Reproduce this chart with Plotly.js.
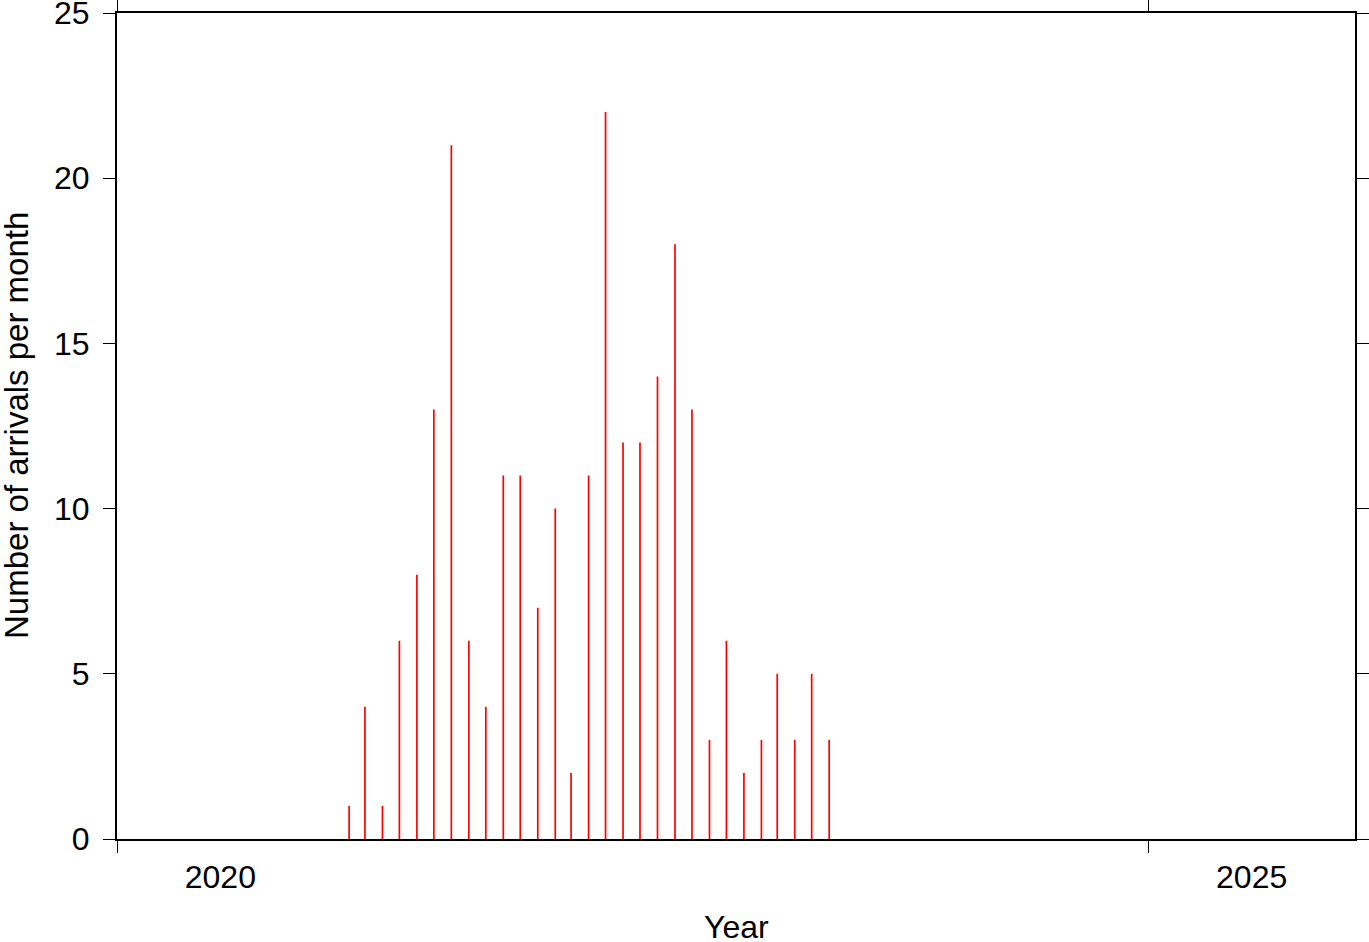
<!DOCTYPE html>
<html>
<head>
<meta charset="utf-8">
<script src="https://cdn.plot.ly/plotly-3.0.1.min.js"></script>
<style>html,body{margin:0;padding:0;background:#fff;}#chart{width:1369px;height:942px;}</style>
</head>
<body>
<div id="chart"></div>
<script>
const months = ["2021-02","2021-03","2021-04","2021-05","2021-06","2021-07","2021-08","2021-09","2021-10","2021-11","2021-12",
  "2022-01","2022-02","2022-03","2022-04","2022-05","2022-06","2022-07","2022-08","2022-09","2022-10","2022-11","2022-12",
  "2023-01","2023-02","2023-03","2023-04","2023-05","2023-06"];
const arrivals = [1,4,1,6,8,13,21,6,4,11,11,7,10,2,11,22,12,12,14,18,13,3,6,2,3,5,3,5,3];
const yearTicks = ["2020-01-01","2025-01-01"];
const yearLabelPos = ["2020-07-02","2025-07-02"];
const yearLabels = ["2020","2025"];
const yTicks = [0,5,10,15,20,25];

const xDates = months.map(m => m + "-15");
const mkFont = (s) => ({family: "Liberation Sans, Arial, sans-serif", size: s || 32, color: "#000"});
const xRange = ["2020-01-01","2026-01-01"];

const traces = [{
  type: "bar",
  x: xDates,
  y: arrivals,
  width: 2.6e8,
  marker: {color: "#ff0000", line: {width: 0}},
  hoverinfo: "x+y",
  xaxis: "x",
  yaxis: "y"
}, {
  type: "scatter",
  mode: "markers",
  x: [],
  y: [],
  xaxis: "x2",
  yaxis: "y",
  showlegend: false
}];

const layout = {
  width: 1369, height: 942,
  margin: {l: 117, r: 14, t: 13, b: 103},
  paper_bgcolor: "#fff", plot_bgcolor: "#fff",
  showlegend: false,
  font: mkFont(),
  xaxis: {
    type: "date", range: xRange,
    tickmode: "array", tickvals: yearTicks, showticklabels: false,
    ticks: "outside", ticklen: 12, tickwidth: 1, tickcolor: "#000",
    showline: true, linewidth: 2, linecolor: "#000", mirror: "ticks",
    showgrid: false, zeroline: false
  },
  xaxis2: {
    type: "date", range: xRange, overlaying: "x", side: "bottom",
    tickmode: "array", tickvals: yearLabelPos, ticktext: yearLabels,
    ticks: "outside", ticklen: 8, tickcolor: "rgba(0,0,0,0)",
    ticklabelstandoff: 2, ticklabeloverflow: "allow",
    showline: false, showgrid: false, zeroline: false,
    tickfont: mkFont()
  },
  yaxis: {
    range: [0, 25],
    tickmode: "array", tickvals: yTicks,
    ticks: "outside", ticklen: 12, tickwidth: 1, tickcolor: "#000",
    showline: true, linewidth: 2, linecolor: "#000", mirror: "ticks",
    showgrid: false, zeroline: false, ticklabeloverflow: "allow",
    tickfont: mkFont(), ticklabelstandoff: 7
  },
  annotations: [{
    text: "Year", xref: "paper", yref: "paper", x: 0.5, y: 0,
    yshift: -88, xanchor: "center", yanchor: "middle", showarrow: false, font: mkFont()
  }, {
    text: "Number of arrivals per month", xref: "paper", yref: "paper",
    x: 0, xshift: -101, y: 0.5, textangle: -90, xanchor: "center", yanchor: "middle",
    showarrow: false, font: mkFont(33)
  }]
};

Plotly.newPlot("chart", traces, layout, {displayModeBar: false, staticPlot: true});
</script>
</body>
</html>
